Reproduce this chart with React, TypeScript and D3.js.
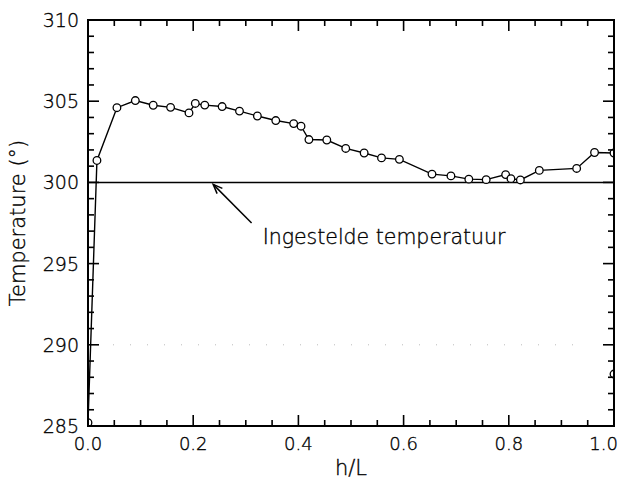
import React from "react";
import * as d3 from "d3";

const hL: number[] = [0.0, 0.017, 0.055, 0.09, 0.124, 0.157, 0.192, 0.204, 0.222, 0.255, 0.288, 0.322, 0.357, 0.391, 0.405, 0.42, 0.454, 0.49, 0.525, 0.558, 0.592, 0.654, 0.69, 0.724, 0.757, 0.794, 0.804, 0.822, 0.858, 0.929, 0.963, 1.0, 1.0];
const temperature: number[] = [285.2, 301.35, 304.6, 305.04, 304.75, 304.62, 304.28, 304.86, 304.76, 304.67, 304.39, 304.09, 303.81, 303.62, 303.46, 302.64, 302.61, 302.09, 301.81, 301.51, 301.42, 300.51, 300.4, 300.2, 300.17, 300.48, 300.23, 300.15, 300.74, 300.86, 301.84, 301.81, 288.2];
const setpoint = 300;
const xTicks: number[] = [0, 0.2, 0.4, 0.6, 0.8, 1.0];
const yTicks: number[] = [285, 290, 295, 300, 305, 310];
const xLabel = "h/L";
const yLabel = "Temperature (°)";
const annotation = "Ingestelde temperatuur";

const W = 619, H = 492;
const M = { left: 88, right: 5, top: 20, bottom: 66 };
const FONT = "'DejaVu Sans ExtraLight', 'DejaVu Sans', sans-serif";
const txt = { fontFamily: FONT, fontWeight: 200, fill: "#000", stroke: "#000", strokeWidth: 0.35 } as const;

export default function App() {
  const x = d3.scaleLinear().domain([0, 1]).range([M.left, W - M.right]);
  const y = d3.scaleLinear().domain([285, 310]).range([H - M.bottom, M.top]);
  const x0 = x.range()[0], x1 = x.range()[1], y0 = y.range()[0], y1 = y.range()[1];
  const xMinor = d3.range(0, 1.0001, 0.05);
  const yMinor = d3.range(285, 310.001, 1);
  const line = d3.line<number>().x((_, i) => x(hL[i])).y((d) => y(d));
  const pts = temperature.map((t, i) => ({ cx: x(hL[i]), cy: y(t) }));
  const isMajorX = (v: number) => xTicks.some((t) => Math.abs(t - v) < 1e-6);
  const isMajorY = (v: number) => yTicks.some((t) => Math.abs(t - v) < 1e-6);

  // annotation arrow: from text toward the setpoint line
  const tipX = x(0.238), tipY = y(setpoint) + 2;
  const tailX = x(0.311), tailY = y(297.5);
  const ang = Math.atan2(tailY - tipY, tailX - tipX);
  const ah = 10, spread = 0.38;
  const a1 = [tipX + ah * Math.cos(ang - spread), tipY + ah * Math.sin(ang - spread)];
  const a2 = [tipX + ah * Math.cos(ang + spread), tipY + ah * Math.sin(ang + spread)];

  return (
    <svg width={W} height={H} style={{ position: "absolute", left: 0, top: 0, background: "#fff" }}>
      <defs>
        <clipPath id="plot">
          <rect x={x0} y={y1} width={x1 - x0} height={y0 - y1} />
        </clipPath>
      </defs>
      {/* faint dotted scan line at 290 */}
      <line x1={x0 + 25} x2={x1 - 30} y1={y(290)} y2={y(290)} stroke="#bbb" strokeWidth={1} strokeDasharray="1 16" />
      {/* setpoint line */}
      <line x1={x0} x2={x1} y1={y(setpoint)} y2={y(setpoint)} stroke="#000" strokeWidth={1.5} />
      {/* data */}
      <g clipPath="url(#plot)">
        <path d={line(temperature) || ""} fill="none" stroke="#000" strokeWidth={1.4} />
        {pts.map((p, i) => (
          <circle key={i} cx={p.cx} cy={p.cy} r={3.8} fill="#fff" stroke="#000" strokeWidth={1.3} />
        ))}
      </g>
      {/* frame */}
      <rect x={x0} y={y1} width={x1 - x0} height={y0 - y1} fill="none" stroke="#000" strokeWidth={2} />
      {/* x ticks bottom and top */}
      {xMinor.map((v, i) => {
        const len = isMajorX(v) ? 11 : 6;
        return (
          <g key={"xt" + i}>
            <line x1={x(v)} x2={x(v)} y1={y0} y2={y0 - len} stroke="#000" strokeWidth={1.6} />
            <line x1={x(v)} x2={x(v)} y1={y1} y2={y1 + len} stroke="#000" strokeWidth={1.6} />
          </g>
        );
      })}
      {yMinor.map((v, i) => {
        const len = isMajorY(v) ? 11 : 6;
        return (
          <g key={"yt" + i}>
            <line x1={x0} x2={x0 + len} y1={y(v)} y2={y(v)} stroke="#000" strokeWidth={1.6} />
            <line x1={x1} x2={x1 - len} y1={y(v)} y2={y(v)} stroke="#000" strokeWidth={1.6} />
          </g>
        );
      })}
      {/* tick labels */}
      {xTicks.map((v, i) => {
        const cx = x(v);
        const atEdge = cx + 15 > W;
        return (
          <text key={"xl" + i} x={atEdge ? W - 1 : cx} y={y0 + 24} textAnchor={atEdge ? "end" : "middle"} fontSize={18} {...txt}>
            {d3.format(".1f")(v)}
          </text>
        );
      })}
      {yTicks.map((v, i) => (
        <text key={"yl" + i} x={x0 - 9} y={y(v) + 7} textAnchor="end" fontSize={19} {...txt}>
          {v}
        </text>
      ))}
      {/* axis titles */}
      <text x={(x0 + x1) / 2} y={H - 17} textAnchor="middle" fontSize={21} {...txt}>
        {xLabel}
      </text>
      <text transform={`translate(25, ${(y0 + y1) / 2}) rotate(-90)`} textAnchor="middle" fontSize={21} {...txt}>
        {yLabel}
      </text>
      {/* annotation */}
      <line x1={tailX} y1={tailY} x2={tipX} y2={tipY} stroke="#000" strokeWidth={1.5} />
      <polyline points={`${a1[0]},${a1[1]} ${tipX},${tipY} ${a2[0]},${a2[1]}`} fill="none" stroke="#000" strokeWidth={1.5} />
      <text x={x(0.332)} y={y(296.2)} fontSize={20.5} {...txt}>
        {annotation}
      </text>
    </svg>
  );
}
